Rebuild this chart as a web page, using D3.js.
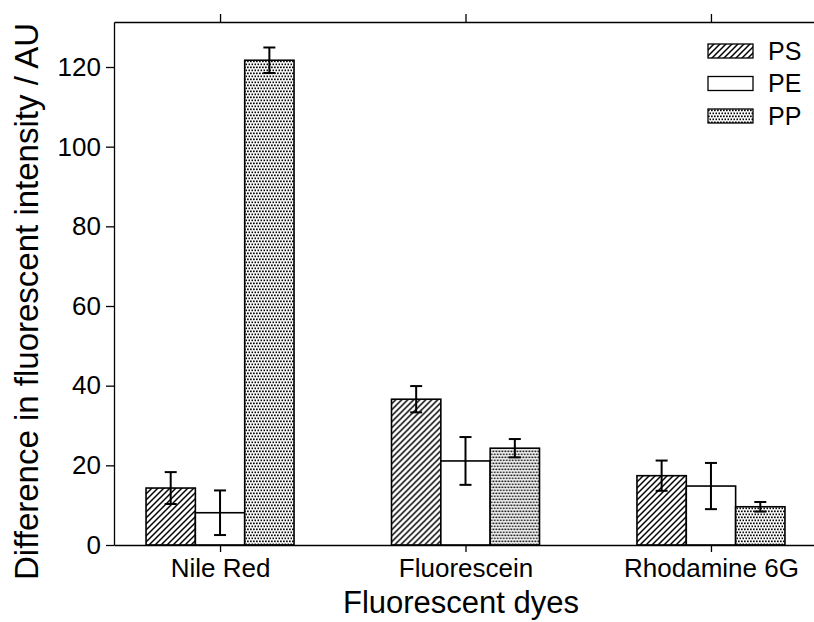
<!DOCTYPE html>
<html>
<head>
<meta charset="utf-8">
<script src="https://cdn.jsdelivr.net/npm/d3@7"></script>
<style>
  body { margin: 0; background: #fff; }
  svg { display: block; font-family: "Liberation Sans", Arial, sans-serif; }
</style>
</head>
<body>
<div class="graph"></div>
<script>
// data
var dyes = ["Nile Red", "Fluorescein", "Rhodamine 6G"];
var polymers = ["PS", "PE", "PP"];
var psValues = [14.3, 36.6, 17.4];
var psErrors = [4.0, 3.3, 3.8];
var peValues = [8.1, 21.1, 14.8];
var peErrors = [5.6, 6.0, 5.8];
var ppValues = [121.7, 24.3, 9.6];
var ppErrors = [3.2, 2.3, 1.2];
var yTicks = [0, 20, 40, 60, 80, 100, 120];

var width = 814, height = 622;
var margin = { top: 22, right: -3, bottom: 77, left: 114 };

var svg = d3.select(".graph").append("svg")
    .attr("width", width)
    .attr("height", height);

// patterns
var defs = svg.append("defs");
var hatch = defs.append("pattern")
    .attr("id", "hatch")
    .attr("patternUnits", "userSpaceOnUse")
    .attr("width", 6).attr("height", 6);
hatch.append("rect").attr("width", 6).attr("height", 6).attr("fill", "#fff");
hatch.append("path")
    .attr("d", "M-1,1 l2,-2 M0,6 l6,-6 M5,7 l2,-2")
    .attr("stroke", "#000").attr("stroke-width", 1.5);

var dots = defs.append("pattern")
    .attr("id", "dots")
    .attr("patternUnits", "userSpaceOnUse")
    .attr("width", 3).attr("height", 6);
dots.append("rect").attr("width", 3).attr("height", 6).attr("fill", "#fff");
dots.append("rect").attr("x", 0).attr("y", 0.5).attr("width", 1.7).attr("height", 1.7).attr("fill", "#000");
dots.append("rect").attr("x", 1.5).attr("y", 3.5).attr("width", 1.7).attr("height", 1.7).attr("fill", "#000");

var fills = { PS: "url(#hatch)", PE: "#fff", PP: "url(#dots)" };

// table for drawing
var table = dyes.map(function (d, i) {
  return {
    dye: d,
    bars: [
      { key: "PS", value: psValues[i], err: psErrors[i] },
      { key: "PE", value: peValues[i], err: peErrors[i] },
      { key: "PP", value: ppValues[i], err: ppErrors[i] }
    ]
  };
});

// scales
var x0 = d3.scalePoint().domain(dyes)
    .range([margin.left, width - margin.right]).padding(0.432);
var x1 = d3.scaleBand().domain(polymers).range([-74, 74]);
var y = d3.scaleLinear().domain([0, 131.3]).range([height - margin.bottom, margin.top]);

// bars
var groups = svg.append("g").selectAll("g")
    .data(table).enter().append("g")
    .attr("transform", function (d) { return "translate(" + x0(d.dye) + ",0)"; });

groups.selectAll("rect")
    .data(function (d) { return d.bars; })
    .enter().append("rect")
    .attr("x", function (d) { return x1(d.key); })
    .attr("width", x1.bandwidth())
    .attr("y", function (d) { return y(d.value); })
    .attr("height", function (d) { return y(0) - y(d.value); })
    .attr("fill", function (d) { return fills[d.key]; })
    .attr("stroke", "#000")
    .attr("stroke-width", 1.6);

// error bars
var eb = groups.selectAll("g.err")
    .data(function (d) { return d.bars; })
    .enter().append("g").attr("class", "err")
    .attr("stroke", "#000").attr("stroke-width", 2);
eb.append("line")
    .attr("x1", function (d) { return x1(d.key) + x1.bandwidth() / 2; })
    .attr("x2", function (d) { return x1(d.key) + x1.bandwidth() / 2; })
    .attr("y1", function (d) { return y(d.value + d.err); })
    .attr("y2", function (d) { return y(d.value - d.err); });
[1, -1].forEach(function (s) {
  eb.append("line")
    .attr("x1", function (d) { return x1(d.key) + x1.bandwidth() / 2 - 6; })
    .attr("x2", function (d) { return x1(d.key) + x1.bandwidth() / 2 + 6; })
    .attr("y1", function (d) { return y(d.value + s * d.err); })
    .attr("y2", function (d) { return y(d.value + s * d.err); });
});

// axes
function styleAxis(g) {
  g.selectAll("path, line").attr("stroke", "#000").attr("stroke-width", 1.3);
  g.selectAll("text").attr("fill", "#000").style("font-size", "26px");
}

svg.append("g")
    .attr("transform", "translate(0," + y(0) + ")")
    .call(d3.axisBottom(x0).tickSizeInner(7).tickSizeOuter(0).tickPadding(6.5))
    .call(styleAxis);

svg.append("g")
    .attr("transform", "translate(0," + margin.top + ")")
    .call(d3.axisTop(x0).tickSizeInner(8).tickSizeOuter(0).tickFormat(""))
    .call(styleAxis);

svg.append("g")
    .attr("transform", "translate(" + margin.left + ",0)")
    .call(d3.axisLeft(y).tickValues(yTicks).tickSizeInner(8).tickSizeOuter(0).tickPadding(5))
    .call(styleAxis);

svg.append("line")
    .attr("x1", width - margin.right).attr("x2", width - margin.right)
    .attr("y1", margin.top).attr("y2", y(0))
    .attr("stroke", "#000").attr("stroke-width", 1.3);

// axis titles
svg.append("text")
    .attr("x", 461).attr("y", 613)
    .attr("text-anchor", "middle")
    .style("font-size", "31px")
    .text("Fluorescent dyes");

svg.append("text")
    .attr("transform", "translate(38,301.5) rotate(-90)")
    .attr("text-anchor", "middle")
    .style("font-size", "33px")
    .text("Difference in fluorescent intensity / AU");

// legend
var legend = svg.append("g").selectAll("g")
    .data(polymers).enter().append("g")
    .attr("transform", function (d, i) { return "translate(708," + (44 + i * 32.5) + ")"; });
legend.append("rect")
    .attr("width", 45).attr("height", 14)
    .attr("fill", function (d) { return fills[d]; })
    .attr("stroke", "#000").attr("stroke-width", 1.3);
legend.append("text")
    .attr("x", 60).attr("y", 7)
    .attr("dy", "0.35em")
    .style("font-size", "25px")
    .text(function (d) { return d; });
</script>
</body>
</html>
